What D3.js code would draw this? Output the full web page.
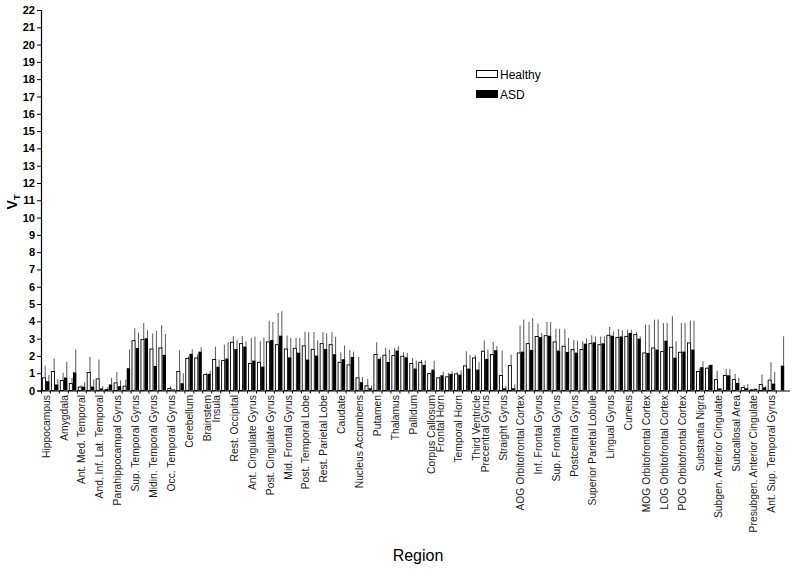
<!DOCTYPE html>
<html><head><meta charset="utf-8">
<script src="https://cdn.jsdelivr.net/npm/d3@7"></script>
<style>body{margin:0;background:#fff}svg{display:block}</style>
</head><body><svg id="c" width="800" height="570"></svg>
<script>
const regions = ["Hippocampus","Amygdala","Ant. Med. Temporal","And. Inf. Lat. Temporal","Parahippocampal Gyrus","Sup. Temporal Gyrus","Midin. Temporal Gyrus","Occ. Temporal Gyrus","Cerebellum","Brainstem","Insula","Rest. Occipital","Ant. Cingulate Gyrus","Post. Cingulate Gyrus","Mid. Frontal Gyrus","Post. Temporal Lobe","Rest. Parietal Lobe","Caudate","Nucleus Accumbens","Putamen","Thalamus","Pallidum","Corpus Callosum","Frontal Horn","Temporal Horn","Third Ventricle","Precentral Gyrus","Straight Gyrus","AOG Orbitofrontal Cortex","Inf. Frontal Gyrus","Sup. Frontal Gyrus","Postcentral Gyrus","Superior Parietal Lobule","Lingual Gyrus","Cuneus","MOG Orbitofrontal Cortex","LOG Orbitofrontal Cortex","POG Orbitofrontal Cortex","Substantia Nigra","Subgen. Anterior Cingulate","Subcallosal Area","Presubgen. Anterior Cingulate","Ant. Sup. Temporal Gyrus"];
// number of measured sides (left/right) per region
const sides = [2,2,2,2,2,2,2,2,2,1,2,2,2,2,2,2,2,2,2,2,2,2,1,2,2,1,2,2,2,2,2,2,2,2,2,2,2,2,2,2,2,2,2];
const healthy   = [0.73,1.10,0.58,0.40,0.20,1.04,0.67,0.06,0.44,0.25,2.88,2.94,2.40,2.46,0.12,1.10,1.85,1.88,0.92,1.79,1.73,2.79,2.71,1.56,1.63,2.81,2.65,2.40,2.44,2.58,2.38,2.71,2.65,1.63,1.48,0.73,0.27,2.08,2.04,2.02,1.98,1.56,1.63,0.98,0.73,0.79,0.96,1.42,1.88,2.27,2.08,0.87,1.44,2.17,2.71,3.12,3.17,2.81,2.56,2.37,2.37,2.71,2.65,3.19,3.06,3.13,3.23,2.17,2.46,2.25,2.50,2.21,2.75,1.10,1.29,0.63,0.87,0.63,0.17,0.04,0.35,0.60,0.00];
const healthySD = [0.71,0.75,0.44,0.33,0.10,0.90,1.12,0.14,0.62,0.38,0.72,0.96,0.89,1.31,0.15,1.23,0.13,0.20,0.10,0.73,0.92,0.34,0.44,1.48,1.22,1.23,1.83,0.77,0.60,0.82,1.00,0.66,0.72,0.58,0.87,1.21,0.40,0.71,0.42,0.44,0.23,0.32,0.14,0.05,0.06,0.23,0.10,0.85,0.18,0.63,0.73,1.44,0.64,1.58,1.25,0.75,0.79,0.77,1.00,0.57,0.48,0.48,0.47,0.48,0.50,0.39,0.15,1.64,1.64,1.65,1.79,1.69,1.29,0.17,0.15,0.52,0.38,0.33,0.14,0.00,0.57,1.03,0.00];
const asd       = [0.54,0.35,0.75,1.05,0.23,0.23,0.12,0.35,0.25,1.29,2.46,3.02,1.42,2.06,0.06,0.42,2.12,2.25,0.96,1.38,1.85,2.40,2.54,1.73,1.38,2.92,3.17,1.92,2.19,1.79,2.02,2.40,2.10,1.81,1.94,0.48,0.13,1.83,1.65,2.31,1.92,1.27,1.48,1.21,0.88,0.96,0.92,1.27,1.21,1.83,2.33,0.13,0.13,2.25,2.35,3.08,3.17,2.31,2.23,2.19,2.71,2.79,2.73,3.17,3.13,3.33,3.00,2.17,2.37,2.88,1.90,2.25,2.37,1.35,1.48,0.12,0.88,0.44,0.13,0.10,0.19,0.40,1.44];
const asdSD     = [0.36,0.32,0.90,1.32,0.25,0.40,0.13,0.38,0.33,1.08,0.87,0.46,2.04,1.21,0.04,0.58,0.26,0.25,0.19,0.41,0.95,0.54,0.31,1.39,1.68,1.04,1.41,1.12,0.85,1.58,0.88,0.91,1.00,0.79,0.31,0.29,0.16,0.11,0.72,0.25,0.25,0.46,0.25,0.52,0.22,0.16,0.25,0.77,0.44,0.54,0.23,0.14,0.22,1.85,1.84,0.25,0.79,1.25,0.81,0.69,0.29,0.34,0.40,0.25,0.35,0.19,0.13,1.64,1.73,1.02,0.95,1.65,1.67,0.34,0.02,0.01,0.37,0.29,0.24,0.00,0.06,0.68,1.69];
const yTicks = d3.range(0, 23);
const seriesNames = ["Healthy","ASD"];

// build one row per measured side
const rows = [];
regions.forEach((r, i) => { for (let s = 0; s < sides[i]; s++) rows.push({label: s === 0 ? r : "", key: r + "_" + s}); });
rows.forEach((d, i) => { d.h = healthy[i]; d.hsd = healthySD[i]; d.a = asd[i]; d.asd = asdSD[i]; });

const svg = d3.select("#c");
const x = d3.scaleBand().domain(rows.map(d => d.key)).range([41.5, 785.2]).padding(0);
const y = d3.scaleLinear().domain([0, 22]).range([390.5, 10]);
const bw = x.bandwidth();

// bars
const g = svg.append("g");
const barW = 3.1;
rows.forEach(d => {
  const c = x(d.key) + bw / 2;
  // healthy
  const hx = c - 3.6;
  if (d.hsd > 0) {
    const ex = hx + barW - 0.3;
    g.append("line").attr("x1", ex).attr("x2", ex).attr("y1", y(d.h)).attr("y2", y(d.h + d.hsd)).attr("stroke", "#444").attr("stroke-width", 0.9);
  }
  g.append("rect").attr("x", hx).attr("y", y(d.h)).attr("width", barW).attr("height", Math.max(0, y(0) - y(d.h)))
    .attr("fill", "#fff").attr("stroke", "#000").attr("stroke-width", 0.9);
  const ax = c + 0.1;
  if (d.asd > 0) {
    const ex = ax + barW - 0.3;
    g.append("line").attr("x1", ex).attr("x2", ex).attr("y1", y(d.a)).attr("y2", y(d.a + d.asd)).attr("stroke", "#444").attr("stroke-width", 0.9);
  }
  g.append("rect").attr("x", ax).attr("y", y(d.a)).attr("width", barW + 0.3).attr("height", Math.max(0, y(0) - y(d.a)))
    .attr("fill", "#000");
});

// y axis
const yAxis = d3.axisLeft(y).tickValues(yTicks).tickSize(4).tickPadding(2).tickFormat(d3.format("d"));
const ya = svg.append("g").attr("transform", "translate(41,0)").call(yAxis);
ya.select(".domain").attr("stroke", "#000").attr("stroke-width", 1.2);
ya.selectAll(".tick line").attr("stroke", "#000");
ya.selectAll("text").attr("font-family", "Arial, 'Liberation Sans', sans-serif").attr("font-size", 11).attr("font-weight", "bold").attr("fill", "#000");

// x axis
const xAxis = d3.axisBottom(x).tickSize(3).tickFormat("");
const xa = svg.append("g").attr("transform", "translate(0,390.5)").call(xAxis);
xa.select(".domain").attr("stroke", "#000").attr("stroke-width", 1.2).attr("d", "M41,0.5H790");
xa.selectAll(".tick line").attr("stroke", "#000").attr("transform", "translate(" + (-bw / 2) + ",0)");

// x labels
svg.append("g").selectAll("text").data(rows.filter(d => d.label)).join("text")
  .attr("transform", d => "translate(" + (x(d.key) + bw / 2) + ",395) rotate(-90)")
  .attr("text-anchor", "end").attr("dy", "0.35em")
  .attr("font-family", "Arial, 'Liberation Sans', sans-serif").attr("font-size", 10.3).attr("fill", "#1a1a1a")
  .text(d => d.label);

// axis titles
const yt = svg.append("text").attr("transform", "translate(16.5,202) rotate(-90)").attr("text-anchor", "middle")
  .attr("font-family", "Arial, 'Liberation Sans', sans-serif").attr("font-size", 14).attr("font-weight", "bold");
yt.append("tspan").text("V");
yt.append("tspan").attr("font-size", 9).attr("dy", 3).text("T");
svg.append("text").attr("x", 418).attr("y", 561).attr("text-anchor", "middle")
  .attr("font-family", "Arial, 'Liberation Sans', sans-serif").attr("font-size", 16).text("Region");

// legend
const leg = svg.append("g");
seriesNames.forEach((n, i) => {
  leg.append("rect").attr("x", 476.5).attr("y", 70.5 + i * 20).attr("width", 21).attr("height", 7)
    .attr("fill", i === 0 ? "#fff" : "#000").attr("stroke", "#000").attr("stroke-width", 1);
  leg.append("text").attr("x", 500).attr("y", 79 + i * 20).attr("font-family", "Arial, 'Liberation Sans', sans-serif")
    .attr("font-size", 12).text(n);
});
</script></body></html>
